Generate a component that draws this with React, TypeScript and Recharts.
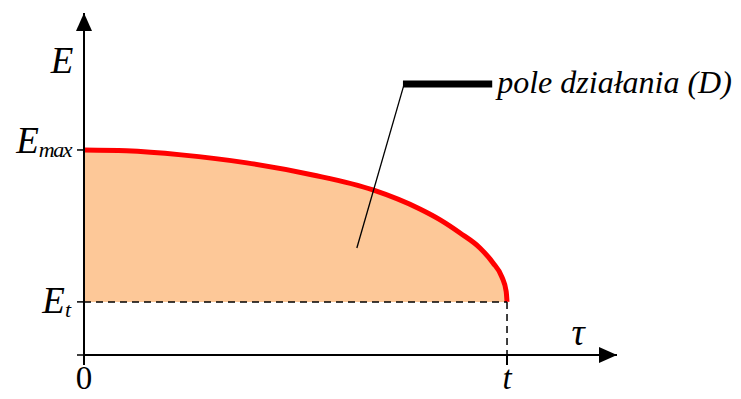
import React from "react";
import { ComposedChart, Area, XAxis, YAxis, ReferenceLine, ReferenceDot } from "recharts";

// curve: tau (t = 1), E (E_max = 1)
const tau = [0, 0.1, 0.23, 0.385, 0.541, 0.683, 0.794, 0.842, 0.889, 0.936, 0.967, 0.988, 0.998, 1];
const energy = [1.0, 0.996, 0.976, 0.937, 0.878, 0.805, 0.712, 0.659, 0.595, 0.522, 0.449, 0.38, 0.31, 0.259];

const E_MAX = 1;
const E_T = 0.259;
const T_END = 1;
const X_MAX = 1.26;
const Y_MAX = 1.668;

const yTicks = [0, E_T, E_MAX];
const yTickLabels = [
  { main: "", sub: "" },
  { main: "E", sub: "t" },
  { main: "E", sub: "max" },
];
const xTicks = [0, T_END];
const xTickLabels = ["0", "t"];

// leader line of the annotation
const leader = [
  { x: 0.645, y: 0.522 },
  { x: 0.757, y: 1.322 },
];
const labelBar = [
  { x: 0.754, y: 1.322 },
  { x: 0.965, y: 1.322 },
];
const annotationText = "pole działania (D)";

const curve = tau.map((t, i) => ({ tau: t, E: energy[i] }));

const SERIF = "'Liberation Serif', 'DejaVu Serif', serif";
const serifItalic = { fontFamily: SERIF, fontStyle: "italic" as const };

function YTick(props: any) {
  const { x, y, payload } = props;
  const idx = yTicks.indexOf(payload.value);
  const lab = yTickLabels[idx];
  if (!lab || !lab.main) return null;
  const dy = lab.sub === "max" ? 3 : 11;
  return (
    <text x={x} y={y + dy} textAnchor="end" style={serifItalic} fill="#000">
      <tspan fontSize={37}>{lab.main}</tspan>
      <tspan fontSize={22} dy={4} letterSpacing={lab.sub === "max" ? -1.5 : 0}>
        {lab.sub}
      </tspan>
    </text>
  );
}

function XTick(props: any) {
  const { x, y, payload } = props;
  const idx = xTicks.indexOf(payload.value);
  const lab = xTickLabels[idx];
  return (
    <text
      x={x}
      y={y + 22}
      textAnchor="middle"
      style={{ fontFamily: SERIF, fontStyle: lab === "0" ? "normal" : "italic" }}
      fontSize={33}
      fill="#000"
    >
      {lab}
    </text>
  );
}

const upArrow = (p: any) => (
  <g>
    <polygon points={`${p.cx},${p.cy} ${p.cx - 8},${p.cy + 18} ${p.cx + 8},${p.cy + 18}`} fill="#000" />
    <text x={p.cx - 22} y={p.cy + 60} textAnchor="middle" style={serifItalic} fontSize={37}>
      E
    </text>
  </g>
);

const rightArrow = (p: any) => (
  <g>
    <polygon points={`${p.cx},${p.cy} ${p.cx - 18},${p.cy - 8} ${p.cx - 18},${p.cy + 8}`} fill="#000" />
    <text x={p.cx - 39} y={p.cy - 10} textAnchor="middle" style={serifItalic} fontSize={37}>
      τ
    </text>
  </g>
);

const annotationLabel = (p: any) => (
  <text x={p.cx + 5} y={p.cy + 9} style={serifItalic} fontSize={32} fill="#000">
    {annotationText}
  </text>
);

export default function App() {
  return (
    <div style={{ position: "absolute", left: 0, top: 0, background: "#fff" }}>
      <ComposedChart
        width={741}
        height={399}
        data={curve}
        margin={{ top: 13, right: 124, bottom: 0, left: 0 }}
      >
        <XAxis
          type="number"
          dataKey="tau"
          domain={[0, X_MAX]}
          allowDataOverflow
          ticks={xTicks}
          tick={<XTick />}
          height={44}
          tickSize={10}
          axisLine={{ stroke: "#000", strokeWidth: 2 }}
          tickLine={{ stroke: "#000", strokeWidth: 2 }}
        />
        <YAxis
          type="number"
          domain={[0, Y_MAX]}
          allowDataOverflow
          ticks={yTicks}
          tick={<YTick />}
          width={84}
          tickSize={7}
          tickMargin={6}
          axisLine={{ stroke: "#000", strokeWidth: 2 }}
          tickLine={{ stroke: "#000", strokeWidth: 1.5 }}
        />
        <Area
          type="monotone"
          dataKey="E"
          baseValue={E_T}
          fill="#FDC898"
          fillOpacity={1}
          stroke="#FF0000"
          strokeWidth={5}
          isAnimationActive={false}
          dot={false}
          activeDot={false}
        />
        <ReferenceLine
          segment={[{ x: 0, y: E_T }, { x: T_END, y: E_T }]}
          stroke="#000"
          strokeWidth={1.5}
          strokeDasharray="7 5"
          ifOverflow="visible"
        />
        <ReferenceLine
          segment={[{ x: T_END, y: E_T }, { x: T_END, y: 0 }]}
          stroke="#000"
          strokeWidth={1.5}
          strokeDasharray="7 5"
          ifOverflow="visible"
        />
        <ReferenceLine segment={leader} stroke="#000" strokeWidth={1.3} ifOverflow="visible" />
        <ReferenceLine segment={labelBar} stroke="#000" strokeWidth={7} ifOverflow="visible" />
        <ReferenceDot x={labelBar[1].x} y={labelBar[1].y} r={0} shape={annotationLabel} ifOverflow="visible" />
        <ReferenceDot x={0} y={Y_MAX} r={0} shape={upArrow} ifOverflow="visible" />
        <ReferenceDot x={X_MAX} y={0} r={0} shape={rightArrow} ifOverflow="visible" />
      </ComposedChart>
    </div>
  );
}
